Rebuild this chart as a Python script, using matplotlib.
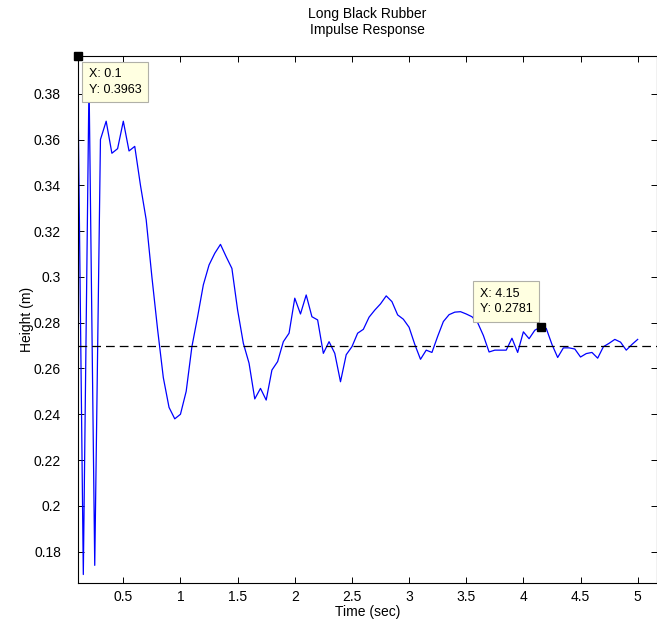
import matplotlib
matplotlib.use('Agg')
import matplotlib.pyplot as plt

# sampled at 0.05 s
time_s = [0.10, 0.15, 0.20, 0.25, 0.30, 0.35, 0.40, 0.45, 0.50, 0.55,
          0.60, 0.65, 0.70, 0.75, 0.80, 0.85, 0.90, 0.95, 1.00, 1.05,
          1.10, 1.15, 1.20, 1.25, 1.30, 1.35, 1.40, 1.45, 1.50, 1.55,
          1.60, 1.65, 1.70, 1.75, 1.80, 1.85, 1.90, 1.95, 2.00, 2.05,
          2.10, 2.15, 2.20, 2.25, 2.30, 2.35, 2.40, 2.45, 2.50, 2.55,
          2.60, 2.65, 2.70, 2.75, 2.80, 2.85, 2.90, 2.95, 3.00, 3.05,
          3.10, 3.15, 3.20, 3.25, 3.30, 3.35, 3.40, 3.45, 3.50, 3.55,
          3.60, 3.65, 3.70, 3.75, 3.80, 3.85, 3.90, 3.95, 4.00, 4.05,
          4.10, 4.15, 4.20, 4.25, 4.30, 4.35, 4.40, 4.45, 4.50, 4.55,
          4.60, 4.65, 4.70, 4.75, 4.80, 4.85, 4.90, 4.95, 5.00]

height_m = [0.3963, 0.1700, 0.3860, 0.1740, 0.3600, 0.3680, 0.3540, 0.3560, 0.3680, 0.3550,
            0.3570, 0.3400, 0.3250, 0.3000, 0.2770, 0.2560, 0.2430, 0.2380, 0.2400, 0.2500,
            0.2695, 0.2826, 0.2965, 0.3052, 0.3103, 0.3142, 0.3088, 0.3037, 0.2855, 0.2710,
            0.2623, 0.2467, 0.2513, 0.2462, 0.2593, 0.2630, 0.2717, 0.2754, 0.2907, 0.2838,
            0.2921, 0.2826, 0.2812, 0.2666, 0.2717, 0.2666, 0.2542, 0.2660, 0.2695, 0.2754,
            0.2771, 0.2824, 0.2855, 0.2882, 0.2917, 0.2892, 0.2834, 0.2815, 0.2780, 0.2705,
            0.2640, 0.2680, 0.2670, 0.2740, 0.2805, 0.2835, 0.2846, 0.2848, 0.2838, 0.2826,
            0.2800, 0.2744, 0.2672, 0.2680, 0.2680, 0.2680, 0.2732, 0.2670, 0.2760, 0.2730,
            0.2767, 0.2781, 0.2775, 0.2705, 0.2648, 0.2690, 0.2690, 0.2685, 0.2650, 0.2665,
            0.2670, 0.2645, 0.2695, 0.2710, 0.2727, 0.2715, 0.2680, 0.2705, 0.2727]

rest_height = 0.27
tip_points = [(0.1, 0.3963), (4.15, 0.2781)]
tip_texts = ['X: 0.1\nY: 0.3963', 'X: 4.15\nY: 0.2781']

x_ticks = [0.5, 1, 1.5, 2, 2.5, 3, 3.5, 4, 4.5, 5]
x_ticklabels = ['0.5', '1', '1.5', '2', '2.5', '3', '3.5', '4', '4.5', '5']
y_ticks = [0.18, 0.2, 0.22, 0.24, 0.26, 0.28, 0.3, 0.32, 0.34, 0.36, 0.38]
y_ticklabels = ['0.18', '0.2', '0.22', '0.24', '0.26', '0.28', '0.3', '0.32', '0.34', '0.36', '0.38']

plt.rcParams['font.family'] = ['Liberation Sans', 'DejaVu Sans']

fig = plt.figure(figsize=(6.57, 6.26), dpi=100)
ax = fig.add_axes([0.1181, 0.0687, 0.8826, 0.8412])

ax.plot(time_s, height_m, color='#0000ff', linewidth=0.9, zorder=2)
ax.axhline(rest_height, color='black', linewidth=0.9, linestyle=(0, (7, 4)), zorder=2)

ax.set_xlim(0.1, 5.173)
ax.set_ylim(0.1663, 0.3963)

ax.set_xticks(x_ticks)
ax.set_xticklabels(x_ticklabels)
ax.set_yticks(y_ticks)
ax.set_yticklabels(y_ticklabels)
ax.tick_params(direction='in', length=4, width=0.7, top=True, right=True,
               labelsize=10, colors='black')
ax.tick_params(axis='y', pad=12)
ax.tick_params(axis='x', pad=5)
for s in ax.spines.values():
    s.set_linewidth(0.8)

ax.set_title('Long Black Rubber\nImpulse Response', fontsize=10, pad=16, linespacing=1.2)
ax.set_xlabel('Time (sec)', fontsize=10, labelpad=1)
ax.set_ylabel('Height (m)', fontsize=10, labelpad=0)

# data tips
for (px, py) in tip_points:
    ax.plot(px, py, marker='s', color='black', markersize=6, clip_on=False, zorder=6)

box = dict(boxstyle='square,pad=0.55', facecolor='#ffffe1', edgecolor='#b0b0a8', linewidth=0.8)
ax.annotate(tip_texts[0], xy=tip_points[0], xytext=(11, -12), textcoords='offset pixels',
            ha='left', va='top', fontsize=9, bbox=box, zorder=5, linespacing=1.35)
ax.annotate(tip_texts[1], xy=tip_points[1], xytext=(-8, 12), textcoords='offset pixels',
            ha='right', va='bottom', multialignment='left', fontsize=9, bbox=box,
            zorder=5, linespacing=1.35)

fig.savefig('out.png', dpi=100)
